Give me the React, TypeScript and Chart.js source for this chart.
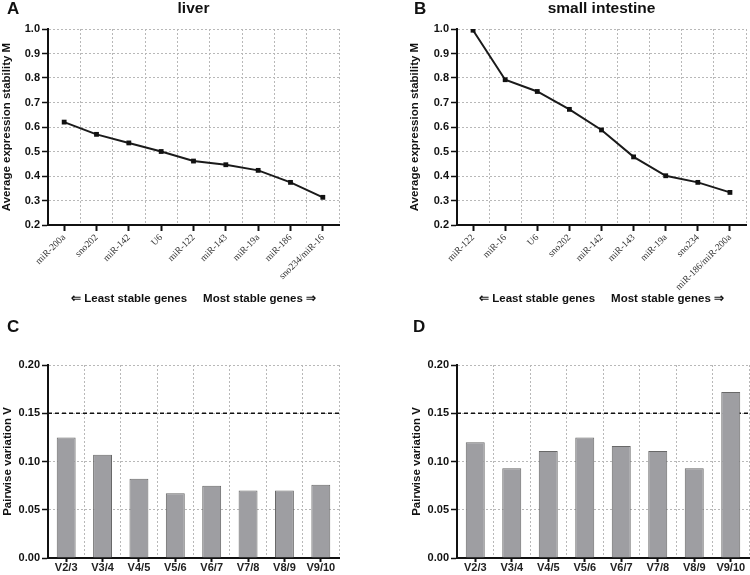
import React, { useEffect, useRef } from 'react';
import { Chart, registerables } from 'chart.js';

Chart.register(...registerables);
Chart.defaults.font.family = '"Liberation Sans", Arial, Helvetica, sans-serif';

// ---------- data ----------
const liverGenes = ['miR-200a', 'sno202', 'miR-142', 'U6', 'miR-122', 'miR-143', 'miR-19a', 'miR-186', 'sno234/miR-16'];
const liverM = [0.62, 0.57, 0.535, 0.5, 0.461, 0.446, 0.423, 0.374, 0.313];

const intestineGenes = ['miR-122', 'miR-16', 'U6', 'sno202', 'miR-142', 'miR-143', 'miR-19a', 'sno234', 'miR-186/miR-200a'];
const intestineM = [0.995, 0.793, 0.745, 0.672, 0.588, 0.478, 0.401, 0.374, 0.333];

const pairLabels = ['V2/3', 'V3/4', 'V4/5', 'V5/6', 'V6/7', 'V7/8', 'V8/9', 'V9/10'];
const liverV = [0.125, 0.107, 0.082, 0.067, 0.075, 0.07, 0.07, 0.076];
const intestineV = [0.12, 0.093, 0.111, 0.125, 0.116, 0.111, 0.093, 0.172];

const cutoffV = 0.15;
const mTitle = 'Average expression stability M';
const vTitle = 'Pairwise variation V';
const footerText = '\u21D0 Least stable genes     Most stable genes \u21D2';

// ---------- plugins ----------
const panelLetterPlugin = {
  id: 'panelLetter',
  afterDraw(chart: any, _a: any, opts: any) {
    if (!opts || !opts.text) return;
    const ctx = chart.ctx;
    ctx.save();
    ctx.font = 'bold 17px "Liberation Sans", Arial, sans-serif';
    ctx.fillStyle = '#111';
    ctx.textBaseline = 'alphabetic';
    ctx.textAlign = 'left';
    ctx.fillText(opts.text, opts.x, opts.y);
    ctx.restore();
  },
};

const cutoffPlugin = {
  id: 'cutoff',
  beforeDatasetsDraw(chart: any, _a: any, opts: any) {
    if (!opts || opts.value == null) return;
    const y = chart.scales.y.getPixelForValue(opts.value);
    const { left, right } = chart.chartArea;
    const ctx = chart.ctx;
    ctx.save();
    ctx.strokeStyle = '#111';
    ctx.lineWidth = 1.3;
    ctx.setLineDash([4, 3]);
    ctx.beginPath();
    ctx.moveTo(left, y);
    ctx.lineTo(right, y);
    ctx.stroke();
    ctx.restore();
  },
};

const GRID = '#b8b8b8';
const INK = '#111';

function gridX() {
  return {
    type: 'category',
    offset: true,
    grid: { offset: true, color: GRID, lineWidth: 1, drawTicks: false },
    border: { display: false, dash: [2, 2] },
    ticks: { display: false },
  };
}

function tickX(opts: any, height: number) {
  return {
    type: 'category',
    position: 'bottom',
    offset: true,
    grid: { offset: false, drawOnChartArea: false, drawTicks: true, tickLength: opts.tickLength, tickColor: INK, tickWidth: 2, tickBorderDash: [] },
    border: { display: true, color: INK, width: 2 },
    ticks: { autoSkip: false, ...opts.ticks },
    title: opts.title,
    afterFit(s: any) { s.height = height; },
  };
}

function yAxis(min: number, max: number, step: number, digits: number, title: string, width: number) {
  return {
    min, max,
    ticks: { stepSize: step, callback: (v: any) => Number(v).toFixed(digits), font: { size: 11, weight: 'bold' }, color: INK, padding: 2 },
    grid: { color: GRID, lineWidth: 1, tickColor: INK, tickWidth: 1.5, tickLength: 6, tickBorderDash: [] },
    border: { color: INK, width: 2, dash: [2, 2] },
    title: { display: true, text: title, font: { size: 11.5, weight: 'bold' }, color: INK, padding: { top: 0, bottom: 0 } },
    afterFit(s: any) { s.width = width; },
  };
}

function lineConfig(p: any) {
  return {
    type: 'line',
    data: {
      labels: p.labels,
      datasets: [{
        data: p.values,
        borderColor: '#1a1a1a',
        borderWidth: 2,
        pointStyle: 'rect',
        pointRadius: 3.4,
        pointBackgroundColor: '#111',
        pointBorderColor: '#111',
        pointBorderWidth: 0,
        tension: 0,
        fill: false,
      }],
    },
    options: {
      responsive: false,
      animation: false,
      layout: { padding: { left: p.padL, right: p.padR, top: 0, bottom: 0 } },
      plugins: {
        legend: { display: false },
        tooltip: { enabled: false },
        title: { display: true, text: p.title, fullSize: false, font: { size: 15.5, weight: 'bold', lineHeight: 1 }, color: INK, padding: { top: 1, bottom: 12.5 } },
        panelLetter: p.letter,
      },
      scales: {
        x: gridX(),
        x2: tickX({
          tickLength: 6,
          ticks: { minRotation: 45, maxRotation: 45, padding: 1, font: { family: '"Liberation Serif", "Times New Roman", serif', size: 9.5 }, color: '#333' },
          title: { display: true, text: footerText, font: { size: 11.5, weight: 'bold' }, color: INK, padding: { top: 0, bottom: 4 } },
        }, p.xH),
        y: yAxis(0.2, 1.0, 0.1, 1, mTitle, p.yW),
      },
    },
    plugins: [panelLetterPlugin],
  };
}

function barConfig(p: any) {
  return {
    type: 'bar',
    data: {
      labels: p.labels,
      datasets: [{
        data: p.values,
        backgroundColor: '#9e9ea2',
        borderColor: '#686868',
        borderWidth: 1,
        barPercentage: 0.52,
        categoryPercentage: 1,
      }],
    },
    options: {
      responsive: false,
      animation: false,
      layout: { padding: { left: p.padL, right: p.padR, top: p.padT, bottom: 0 } },
      plugins: {
        legend: { display: false },
        tooltip: { enabled: false },
        panelLetter: p.letter,
        cutoff: { value: cutoffV },
      },
      scales: {
        x: gridX(),
        x2: tickX({
          tickLength: 4,
          ticks: { maxRotation: 0, minRotation: 0, padding: -1, font: { size: 11, weight: 'bold' }, color: '#222' },
          title: { display: false },
        }, p.xH),
        y: yAxis(0, 0.2, 0.05, 2, vTitle, p.yW),
      },
    },
    plugins: [panelLetterPlugin, cutoffPlugin],
  };
}

function Panel({ left, top, width, height, config }: any) {
  const ref = useRef<HTMLCanvasElement>(null);
  useEffect(() => {
    if (!ref.current) return;
    const chart = new Chart(ref.current, config);
    return () => chart.destroy();
  }, []);
  return (
    <canvas
      ref={ref}
      width={width}
      height={height}
      style={{ position: 'absolute', left, top, width, height }}
    />
  );
}

export default function App() {
  const panels = [
    {
      left: 0, top: 0, width: 375, height: 310,
      config: lineConfig({ labels: liverGenes, values: liverM, title: 'liver', padL: 0, padR: 36, yW: 48, xH: 85, letter: { text: 'A', x: 7, y: 14 } }),
    },
    {
      left: 375, top: 0, width: 375, height: 310,
      config: lineConfig({ labels: intestineGenes, values: intestineM, title: 'small intestine', padL: 33, padR: 2, yW: 49, xH: 85, letter: { text: 'B', x: 39, y: 14 } }),
    },
    {
      left: 0, top: 310, width: 375, height: 265,
      config: barConfig({ labels: pairLabels, values: liverV, padL: 1, padR: 36, padT: 55, yW: 47, xH: 17, letter: { text: 'C', x: 7, y: 22 } }),
    },
    {
      left: 375, top: 310, width: 375, height: 265,
      config: barConfig({ labels: pairLabels, values: intestineV, padL: 35, padR: 1, padT: 55, yW: 47, xH: 17, letter: { text: 'D', x: 38, y: 22 } }),
    },
  ];
  return (
    <div style={{ position: 'absolute', left: 0, top: 0, width: 750, height: 575, background: '#fff', overflow: 'hidden' }}>
      {panels.map((p, i) => (
        <Panel key={i} {...p} />
      ))}
    </div>
  );
}
